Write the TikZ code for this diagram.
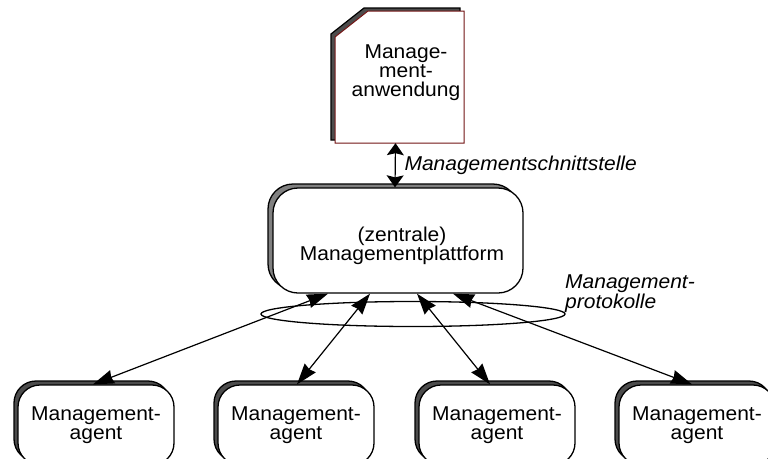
\documentclass[tikz,border=0pt]{standalone}
\usepackage{fontspec}
\setmainfont[FakeStretch=1.05]{Liberation Sans}
\usetikzlibrary{shapes.geometric,shadows,arrows.meta}
\definecolor{platshade}{gray}{0.5}
\definecolor{agentshade}{gray}{0.3}
\definecolor{docred}{rgb}{0.45,0.08,0.08}

\begin{document}
\begin{tikzpicture}[x=1pt,y=-1pt,
  every node/.style={font=\fontsize{20}{19}\selectfont, align=center},
  platbox/.style={draw, line width=1.3pt, fill=white, rounded corners=25pt,
    minimum width=250pt, minimum height=105pt,
    copy shadow={shadow xshift=-5pt, shadow yshift=4pt, fill=platshade, draw=black, line width=1.3pt}},
  agentbox/.style={draw, line width=1.3pt, fill=white, rounded corners=22pt,
    minimum width=156pt, minimum height=80pt,
    copy shadow={shadow xshift=-4pt, shadow yshift=4pt, fill=agentshade, draw=black, line width=1.3pt}},
  link/.style={line width=1.2pt, {Stealth[length=21pt,width=14pt,inset=1.5pt]}-{Stealth[length=21pt,width=14pt,inset=1.5pt]}},
  uplink/.style={line width=1.2pt, {Stealth[length=12pt,width=17pt,inset=2pt]}-{Stealth[length=12pt,width=17pt,inset=2pt]}},
  lbl/.style={font=\fontsize{20}{16}\selectfont\itshape, align=left}]
  \useasboundingbox (0,0) rectangle (768,458);

  % Managementanwendung (Dokument)
  \draw[line width=1.2pt, fill=agentshade] (364,8) -- (460,8) -- (460,140) -- (331,140) -- (331,34) -- cycle;
  \draw[line width=1pt, draw=docred, fill=white] (368,11) -- (464,11) -- (464,143) -- (335,143) -- (335,37) -- cycle;
  \node[minimum width=129pt, minimum height=132pt, inner sep=0pt] (doc) at (399.5,77) {};
  \node (doctext) at (406,73) {Manage-\\ment-\\anwendung};

  % Plattform und Agenten
  \node[platbox] (plat) at (398,240.5) {};
  \node (plattext) at ([xshift=4pt,yshift=-5pt]plat.center) {(zentrale)\\Managementplattform};
  \foreach \x/\n in {96/1, 296/2, 497/3, 697/4}
    \node[agentbox] (ag\n) at (\x,425) {Management-\\agent};

  \node[draw, ellipse, line width=1.3pt, minimum width=304pt, minimum height=25pt, inner sep=0pt] (ring) at (413,314) {};

  \draw[uplink] ([xshift=-4pt]doc.south) -- ([xshift=-3pt]plat.north);
  \draw[link] ([xshift=-70pt]plat.south) -- ([xshift=-3pt]ag1.north);
  \draw[link] ([xshift=-28pt]plat.south) -- ([xshift=1pt]ag2.north);
  \draw[link] ([xshift=19pt]plat.south) -- ([xshift=-7pt]ag3.north);
  \draw[link] ([xshift=55pt]plat.south) -- ([xshift=-5pt]ag4.north);

  \node[lbl, anchor=base west] (schnitt) at (401,170) {Managementschnittstelle};
  \node[lbl, anchor=north west, inner sep=0pt] (proto) at (565,275) {Management-\\protokolle};
\end{tikzpicture}
\end{document}
